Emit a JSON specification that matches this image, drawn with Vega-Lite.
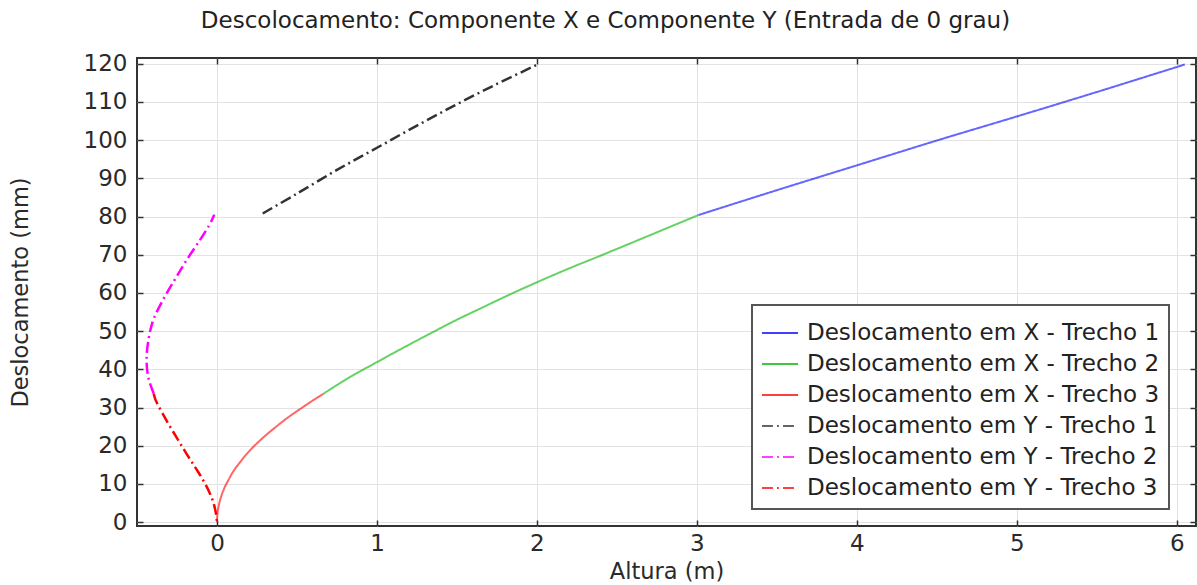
{
  "$schema": "https://vega.github.io/schema/vega-lite/v6.json",
  "autosize": {"type": "none"},
  "padding": {"left": 137, "top": 58, "right": 1, "bottom": 59},
  "width": 1059,
  "height": 468,
  "title": {
    "text": "Descolocamento: Componente X e Componente Y (Entrada de 0 grau)",
    "anchor": "middle",
    "dx": -61,
    "offset": 20,
    "fontSize": 23,
    "fontWeight": "normal",
    "font": "DejaVu Sans",
    "color": "#222"
  },
  "config": {
    "font": "DejaVu Sans",
    "view": {"stroke": "#333", "strokeWidth": 2},
    "axis": {
      "labelFont": "DejaVu Sans",
      "titleFont": "DejaVu Sans",
      "labelFontSize": 23,
      "titleFontSize": 22.5,
      "titleFontWeight": "normal",
      "labelColor": "#2a2a2a",
      "titleColor": "#2a2a2a",
      "domain": false,
      "tickColor": "#333",
      "tickWidth": 1.5,
      "tickSize": -6,
      "gridColor": "#e3e3e3",
      "gridWidth": 1
    },
    "legend": {"symbolOpacity": 1}
  },
  "data": {
    "values": [
      {"serie": "Deslocamento em X - Trecho 1", "altura": 3.01, "desloc": 80.4},
      {"serie": "Deslocamento em X - Trecho 1", "altura": 3.5, "desloc": 86.9},
      {"serie": "Deslocamento em X - Trecho 1", "altura": 4.0, "desloc": 93.4},
      {"serie": "Deslocamento em X - Trecho 1", "altura": 4.5, "desloc": 99.9},
      {"serie": "Deslocamento em X - Trecho 1", "altura": 5.0, "desloc": 106.2},
      {"serie": "Deslocamento em X - Trecho 1", "altura": 5.5, "desloc": 112.6},
      {"serie": "Deslocamento em X - Trecho 1", "altura": 6.05, "desloc": 119.8},

      {"serie": "Deslocamento em X - Trecho 2", "altura": 0.665, "desloc": 33.6},
      {"serie": "Deslocamento em X - Trecho 2", "altura": 0.8, "desloc": 37.2},
      {"serie": "Deslocamento em X - Trecho 2", "altura": 1.0, "desloc": 41.9},
      {"serie": "Deslocamento em X - Trecho 2", "altura": 1.18, "desloc": 46.0},
      {"serie": "Deslocamento em X - Trecho 2", "altura": 1.352, "desloc": 49.8},
      {"serie": "Deslocamento em X - Trecho 2", "altura": 1.5, "desloc": 53.0},
      {"serie": "Deslocamento em X - Trecho 2", "altura": 1.665, "desloc": 56.3},
      {"serie": "Deslocamento em X - Trecho 2", "altura": 1.8, "desloc": 59.0},
      {"serie": "Deslocamento em X - Trecho 2", "altura": 2.0, "desloc": 62.8},
      {"serie": "Deslocamento em X - Trecho 2", "altura": 2.2, "desloc": 66.4},
      {"serie": "Deslocamento em X - Trecho 2", "altura": 2.4, "desloc": 69.8},
      {"serie": "Deslocamento em X - Trecho 2", "altura": 2.7, "desloc": 75.0},
      {"serie": "Deslocamento em X - Trecho 2", "altura": 3.01, "desloc": 80.4},

      {"serie": "Deslocamento em X - Trecho 3", "altura": 0.0, "desloc": 0.0},
      {"serie": "Deslocamento em X - Trecho 3", "altura": 0.002, "desloc": 1.8},
      {"serie": "Deslocamento em X - Trecho 3", "altura": 0.008, "desloc": 3.7},
      {"serie": "Deslocamento em X - Trecho 3", "altura": 0.019, "desloc": 5.7},
      {"serie": "Deslocamento em X - Trecho 3", "altura": 0.03, "desloc": 7.2},
      {"serie": "Deslocamento em X - Trecho 3", "altura": 0.05, "desloc": 9.3},
      {"serie": "Deslocamento em X - Trecho 3", "altura": 0.075, "desloc": 11.3},
      {"serie": "Deslocamento em X - Trecho 3", "altura": 0.102, "desloc": 13.3},
      {"serie": "Deslocamento em X - Trecho 3", "altura": 0.15, "desloc": 16.0},
      {"serie": "Deslocamento em X - Trecho 3", "altura": 0.206, "desloc": 18.8},
      {"serie": "Deslocamento em X - Trecho 3", "altura": 0.29, "desloc": 22.2},
      {"serie": "Deslocamento em X - Trecho 3", "altura": 0.373, "desloc": 25.1},
      {"serie": "Deslocamento em X - Trecho 3", "altura": 0.44, "desloc": 27.3},
      {"serie": "Deslocamento em X - Trecho 3", "altura": 0.519, "desloc": 29.6},
      {"serie": "Deslocamento em X - Trecho 3", "altura": 0.59, "desloc": 31.6},
      {"serie": "Deslocamento em X - Trecho 3", "altura": 0.665, "desloc": 33.6},

      {"serie": "Deslocamento em Y - Trecho 1", "altura": 0.286, "desloc": 80.8},
      {"serie": "Deslocamento em Y - Trecho 1", "altura": 0.5, "desloc": 86.0},
      {"serie": "Deslocamento em Y - Trecho 1", "altura": 0.75, "desloc": 92.2},
      {"serie": "Deslocamento em Y - Trecho 1", "altura": 1.0, "desloc": 98.0},
      {"serie": "Deslocamento em Y - Trecho 1", "altura": 1.25, "desloc": 103.8},
      {"serie": "Deslocamento em Y - Trecho 1", "altura": 1.5, "desloc": 109.4},
      {"serie": "Deslocamento em Y - Trecho 1", "altura": 1.75, "desloc": 114.7},
      {"serie": "Deslocamento em Y - Trecho 1", "altura": 2.004, "desloc": 119.8},

      {"serie": "Deslocamento em Y - Trecho 2", "altura": -0.395, "desloc": 33.6},
      {"serie": "Deslocamento em Y - Trecho 2", "altura": -0.42, "desloc": 36.5},
      {"serie": "Deslocamento em Y - Trecho 2", "altura": -0.434, "desloc": 39.0},
      {"serie": "Deslocamento em Y - Trecho 2", "altura": -0.44, "desloc": 42.0},
      {"serie": "Deslocamento em Y - Trecho 2", "altura": -0.438, "desloc": 44.5},
      {"serie": "Deslocamento em Y - Trecho 2", "altura": -0.429, "desloc": 47.6},
      {"serie": "Deslocamento em Y - Trecho 2", "altura": -0.415, "desloc": 50.5},
      {"serie": "Deslocamento em Y - Trecho 2", "altura": -0.396, "desloc": 53.2},
      {"serie": "Deslocamento em Y - Trecho 2", "altura": -0.35, "desloc": 57.2},
      {"serie": "Deslocamento em Y - Trecho 2", "altura": -0.302, "desloc": 60.8},
      {"serie": "Deslocamento em Y - Trecho 2", "altura": -0.248, "desloc": 64.6},
      {"serie": "Deslocamento em Y - Trecho 2", "altura": -0.19, "desloc": 68.6},
      {"serie": "Deslocamento em Y - Trecho 2", "altura": -0.106, "desloc": 73.9},
      {"serie": "Deslocamento em Y - Trecho 2", "altura": -0.05, "desloc": 77.6},
      {"serie": "Deslocamento em Y - Trecho 2", "altura": -0.026, "desloc": 79.6},
      {"serie": "Deslocamento em Y - Trecho 2", "altura": -0.017, "desloc": 80.5},

      {"serie": "Deslocamento em Y - Trecho 3", "altura": -0.395, "desloc": 33.6},
      {"serie": "Deslocamento em Y - Trecho 3", "altura": -0.386, "desloc": 32.2},
      {"serie": "Deslocamento em Y - Trecho 3", "altura": -0.315, "desloc": 26.6},
      {"serie": "Deslocamento em Y - Trecho 3", "altura": -0.25, "desloc": 22.0},
      {"serie": "Deslocamento em Y - Trecho 3", "altura": -0.19, "desloc": 17.9},
      {"serie": "Deslocamento em Y - Trecho 3", "altura": -0.135, "desloc": 14.3},
      {"serie": "Deslocamento em Y - Trecho 3", "altura": -0.085, "desloc": 10.9},
      {"serie": "Deslocamento em Y - Trecho 3", "altura": -0.045, "desloc": 7.6},
      {"serie": "Deslocamento em Y - Trecho 3", "altura": -0.023, "desloc": 5.2},
      {"serie": "Deslocamento em Y - Trecho 3", "altura": -0.006, "desloc": 2.2},
      {"serie": "Deslocamento em Y - Trecho 3", "altura": 0.0, "desloc": 0.0}
    ]
  },
  "resolve": {"axis": {"x": "independent", "y": "independent"}},
  "layer": [
    {
      "transform": [{"filter": {"field": "serie", "oneOf": ["Deslocamento em X - Trecho 1", "Deslocamento em X - Trecho 2", "Deslocamento em X - Trecho 3"]}}],
      "mark": {"type": "line", "strokeWidth": 2, "opacity": 0.6, "clip": true, "interpolate": "catmull-rom"},
      "encoding": {
        "x": {"field": "altura", "type": "quantitative", "scale": {"domain": [-0.5, 6.12], "nice": false, "zero": false},
              "axis": {"title": "Altura (m)", "values": [0, 1, 2, 3, 4, 5, 6], "labelPadding": 12, "titleBaseline": "top", "titleY": 34}},
        "y": {"field": "desloc", "type": "quantitative", "scale": {"domain": [-1, 121.5], "nice": false, "zero": false},
              "axis": {"title": "Deslocamento (mm)", "values": [0, 10, 20, 30, 40, 50, 60, 70, 80, 90, 100, 110, 120], "labelPadding": 16, "titleBaseline": "bottom", "titleX": -105, "titleY": 234}},
        "color": {"field": "serie", "type": "nominal",
                  "scale": {"domain": ["Deslocamento em X - Trecho 1", "Deslocamento em X - Trecho 2", "Deslocamento em X - Trecho 3", "Deslocamento em Y - Trecho 1", "Deslocamento em Y - Trecho 2", "Deslocamento em Y - Trecho 3"],
                            "range": ["#0000ff", "#00b400", "#ff0000", "#333333", "#ff00ff", "#ff0000"]},
                  "legend": {"title": null, "orient": "none", "legendX": 615, "legendY": 247, "padding": 9, "fillColor": "#ffffff", "strokeColor": "#555555", "cornerRadius": 0,
                             "symbolType": "stroke", "symbolSize": 1300, "symbolStrokeWidth": 1.5, "labelFontSize": 23, "labelFont": "DejaVu Sans", "labelColor": "#222", "labelOffset": 8, "rowPadding": 0, "labelLimit": 500,
                             "encode": {"legend": {"update": {"strokeWidth": {"value": 2}}}}}},
        "strokeDash": {"field": "serie", "type": "nominal",
                       "scale": {"domain": ["Deslocamento em X - Trecho 1", "Deslocamento em X - Trecho 2", "Deslocamento em X - Trecho 3", "Deslocamento em Y - Trecho 1", "Deslocamento em Y - Trecho 2", "Deslocamento em Y - Trecho 3"],
                                 "range": [[1, 0], [1, 0], [1, 0], [11, 4, 2, 4], [11, 4, 2, 4], [11, 4, 2, 4]]}},
        "order": {"value": null}
      }
    },
    {
      "transform": [{"filter": {"field": "serie", "oneOf": ["Deslocamento em Y - Trecho 1", "Deslocamento em Y - Trecho 2", "Deslocamento em Y - Trecho 3"]}}],
      "mark": {"type": "line", "strokeWidth": 2.5, "clip": true, "interpolate": "catmull-rom"},
      "encoding": {
        "x": {"field": "altura", "type": "quantitative", "axis": null},
        "y": {"field": "desloc", "type": "quantitative", "axis": null},
        "color": {"field": "serie", "type": "nominal"},
        "strokeDash": {"field": "serie", "type": "nominal"},
        "order": {"value": null}
      }
    },
    {
      "mark": {"type": "point", "opacity": 0},
      "encoding": {
        "x": {"field": "altura", "type": "quantitative", "axis": {"orient": "top", "title": null, "labels": false, "grid": false, "values": [0, 1, 2, 3, 4, 5, 6]}},
        "y": {"field": "desloc", "type": "quantitative", "axis": {"orient": "right", "title": null, "labels": false, "grid": false, "values": [0, 10, 20, 30, 40, 50, 60, 70, 80, 90, 100, 110, 120]}}
      }
    }
  ]
}
